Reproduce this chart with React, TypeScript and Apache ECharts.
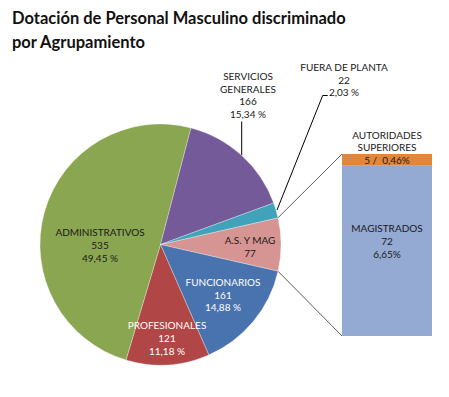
import React, { useEffect, useRef } from "react";
import * as echarts from "echarts";

const titleLines = ["Dotación de Personal Masculino discriminado", "por Agrupamiento"];

// Pie slices, clockwise from the split slice
const pieNames = ["A.S. Y MAG", "FUNCIONARIOS", "PROFESIONALES", "ADMINISTRATIVOS", "SERVICIOS GENERALES", "FUERA DE PLANTA"];
const pieValues = [77, 161, 121, 535, 166, 22];
const pieColors = ["#D69593", "#4873AE", "#B04646", "#8AA650", "#745A98", "#40A3B9"];

// Bar (breakdown of A.S. Y MAG), bottom to top
const barNames = ["MAGISTRADOS", "AUTORIDADES SUPERIORES"];
const barValues = [72, 5];
const barColors = ["#94AAD2", "#E0873F"];

const FONT = "Lato, 'Noto Sans', sans-serif";

export default function App() {
  const ref = useRef<HTMLDivElement>(null);
  useEffect(() => {
    if (!ref.current) return;
    const chart = echarts.init(ref.current, undefined, { renderer: "svg" });
    const total = pieValues.reduce((a, b) => a + b, 0);
    const pct = (v: number) => ((v / total) * 100).toFixed(2).replace(".", ",");
    const barTotal = barValues.reduce((a, b) => a + b, 0);

    const cx = 160.5, cy = 244.5, r = 120.5;
    const half = (pieValues[0] / total) * 180;
    const rad = (half * Math.PI) / 180;
    const pTop = [cx + r * Math.cos(rad), cy - r * Math.sin(rad)];
    const pBot = [cx + r * Math.cos(rad), cy + r * Math.sin(rad)];
    const barLeft = 342, barTop = 154, barW = 90, barH = 182;

    const lbl = (x: number, y: number, text: string, fill = "#1a1a1a") => ({
      type: "text",
      x,
      y,
      silent: true,
      z: 10,
      style: { text, fill, font: `10px ${FONT}`, align: "center", verticalAlign: "middle", lineHeight: 12.7 },
    });

    const option: any = {
      animation: false,
      backgroundColor: "#ffffff",
      grid: { left: barLeft, top: barTop, width: barW, height: barH, containLabel: false },
      xAxis: { type: "category", data: ["bar"], show: false },
      yAxis: { type: "value", min: 0, max: barTotal, show: false },
      series: [
        {
          type: "pie",
          center: [cx, cy],
          radius: r,
          startAngle: half,
          clockwise: true,
          avoidLabelOverlap: false,
          label: { show: false },
          labelLine: { show: false },
          itemStyle: { borderColor: "rgba(255,255,255,0.5)", borderWidth: 0.6 },
          data: pieNames.map((n, i) => ({ name: n, value: pieValues[i], itemStyle: { color: pieColors[i] } })),
        },
        ...barNames.map((n, i) => ({
          type: "bar",
          name: n,
          stack: "s",
          barWidth: "100%",
          data: [barValues[i]],
          itemStyle: { color: barColors[i] },
          label: {
            show: true,
            position: "inside",
            offset: i === 0 ? [0, -10] : [0, 0],
            color: "#1a1a1a",
            fontFamily: FONT,
            fontSize: 10,
            lineHeight: 12.7,
            formatter:
              i === 0
                ? `${n}\n${barValues[i]}\n${pct(barValues[i])}%`
                : `${barValues[i]} /  ${pct(barValues[i])}%`,
          },
        })),
      ],
      graphic: [
        {
          type: "text",
          left: 12,
          top: 9,
          style: { text: titleLines[0], fill: "#111", font: `bold 16.5px ${FONT}` },
        },
        {
          type: "text",
          left: 12,
          top: 33,
          style: { text: titleLines[1], fill: "#111", font: `bold 16.5px ${FONT}` },
        },
        lbl(100, 245, `${pieNames[3]}\n${pieValues[3]}\n${pct(pieValues[3])} %`),
        lbl(167, 338, `${pieNames[2]}\n${pieValues[2]}\n${pct(pieValues[2])} %`, "#ffffff"),
        lbl(223, 294.5, `${pieNames[1]}\n${pieValues[1]}\n${pct(pieValues[1])} %`, "#ffffff"),
        lbl(250, 246.5, `${pieNames[0]}\n${pieValues[0]}`),
        lbl(248, 95, `SERVICIOS\nGENERALES\n${pieValues[4]}\n${pct(pieValues[4])} %`),
        lbl(344, 79.7, `${pieNames[5]}\n${pieValues[5]}\n${pct(pieValues[5])} %`),
        lbl(387, 141, `AUTORIDADES\nSUPERIORES`),
        {
          type: "line",
          silent: true,
          shape: { x1: 241.7, y1: 121.5, x2: 241.7, y2: 155 },
          style: { stroke: "#000", lineWidth: 1 },
        },
        {
          type: "polyline",
          silent: true,
          shape: { points: [[327.7, 95.5], [322.7, 95.5], [277, 210]] },
          style: { stroke: "#000", lineWidth: 1, fill: null },
        },
        {
          type: "line",
          silent: true,
          shape: { x1: pTop[0], y1: pTop[1], x2: barLeft, y2: barTop },
          style: { stroke: "#333", lineWidth: 0.8 },
        },
        {
          type: "line",
          silent: true,
          shape: { x1: pBot[0], y1: pBot[1], x2: barLeft, y2: barTop + barH },
          style: { stroke: "#333", lineWidth: 0.8 },
        },
      ],
    };
    chart.setOption(option);
    return () => chart.dispose();
  }, []);
  return (
    <div
      ref={ref}
      style={{ position: "absolute", left: 0, top: 0, width: 449, height: 397, background: "#fff" }}
    />
  );
}
